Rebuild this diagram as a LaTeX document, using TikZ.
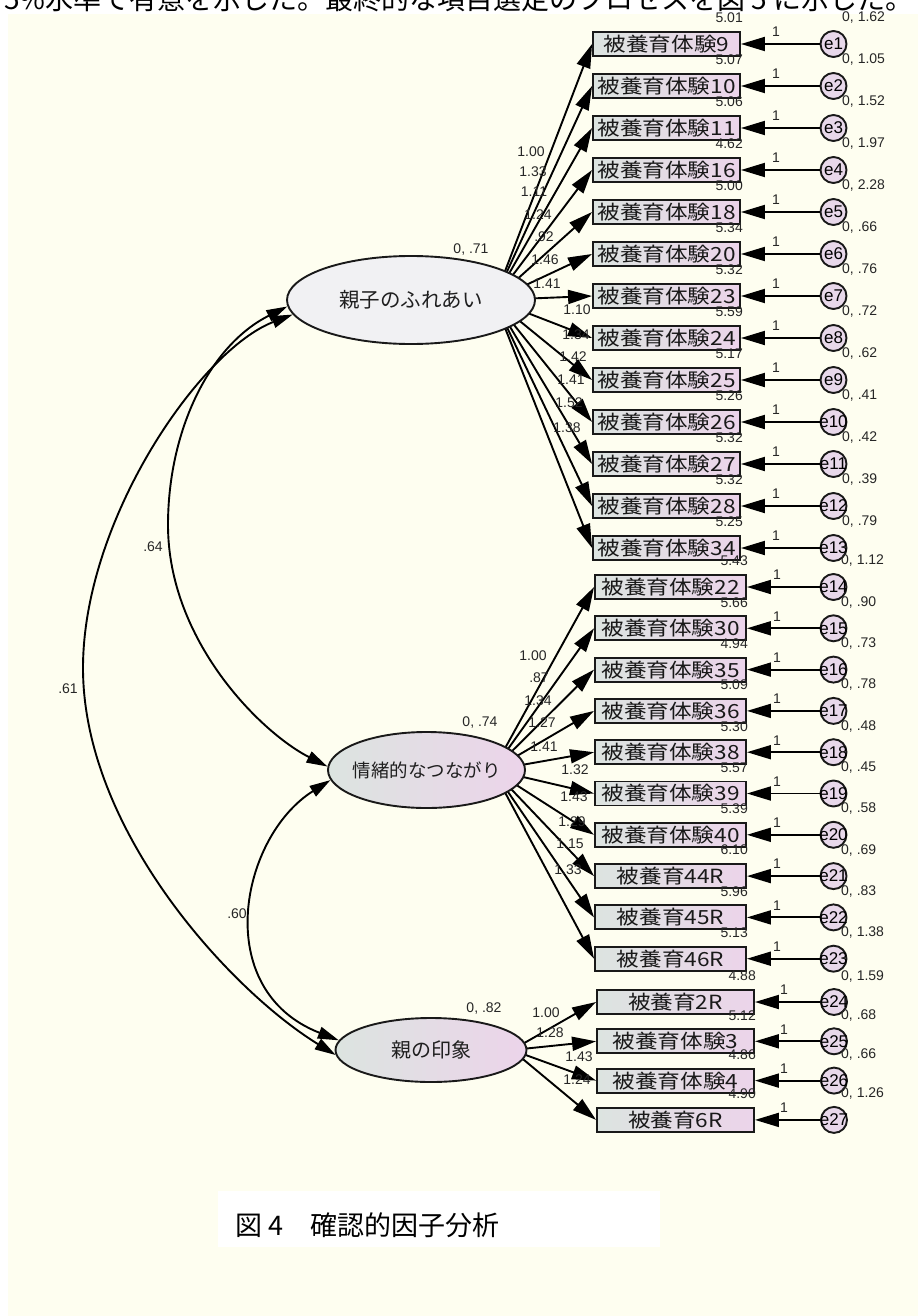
\documentclass[tikz,border=0pt]{standalone}
\usepackage{fontspec}
\usepackage{graphicx}
\setmainfont{Liberation Sans}
\newfontfamily\jp{Noto Sans CJK JP}
\usetikzlibrary{shapes.geometric,arrows.meta}
\definecolor{bg}{HTML}{FEFEF0}
\definecolor{gl}{HTML}{DCE4E0}
\definecolor{gr}{HTML}{ECD4EA}
\definecolor{ec}{HTML}{E8D8EA}
\definecolor{ellone}{HTML}{F1F1F3}
\newcommand{\boxtxt}[1]{\scalebox{1.16}[1]{#1}}
\tikzset{
 num/.style={font=\fontsize{14}{14}\selectfont, text=black!85, inner sep=0pt},
 arr/.style={line width=1.9pt, -{Triangle[length=24pt,width=14pt]}},
 cov/.style={line width=1.9pt, {Triangle[length=21pt,width=12pt]}-{Triangle[length=21pt,width=12pt]}},
 obs/.style={rectangle, draw=black!90, line width=1.9pt, left color=gl, right color=gr, minimum height=24pt, inner sep=0pt, text=black!90, font=\jp\fontsize{19.5}{20}\selectfont},
 err/.style={circle, draw=black!90, line width=1.9pt, fill=ec, minimum size=26pt, inner sep=0pt, font=\fontsize{17}{17}\selectfont},
 lat/.style={ellipse, draw=black!90, line width=1.9pt, inner sep=0pt, text=black!88},
}
\begin{document}
\begin{tikzpicture}[x=1pt,y=-1pt]
\useasboundingbox (0,0) rectangle (918,1316);
\fill[white] (0,0) rectangle (918,1316);
\fill[bg] (8,14) rectangle (918,1316);
\begin{scope}
\clip (0,0) rectangle (918,14);
\node[anchor=base west, inner sep=0pt, font=\jp\fontsize{28}{28}\selectfont] (toptext) at (4,10) {5\%水準で有意を示した。最終的な項目選定のプロセスを図 5 に示した。};
\end{scope}

\coordinate (P1) at (494,300);
\coordinate (P2) at (493,770);
\coordinate (P3) at (512,1050);

% group 1
\foreach \k/\txt/\mean/\var/\load/\lx/\ly in {
 0/被養育体験9/5.01/1.62/1.00/531/152,
 1/被養育体験10/5.07/1.05/1.33/533/172,
 2/被養育体験11/5.06/1.52/1.11/534/192,
 3/被養育体験16/4.62/1.97/1.24/538/215,
 4/被養育体験18/5.00/2.28/.92/544/237,
 5/被養育体験20/5.34/.66/1.46/545/260,
 6/被養育体験23/5.32/.76/1.41/547/284,
 7/被養育体験24/5.59/.72/1.10/577/310,
 8/被養育体験25/5.17/.62/1.34/576/335,
 9/被養育体験26/5.26/.41/1.42/573/357,
 10/被養育体験27/5.32/.42/1.41/571/380,
 11/被養育体験28/5.32/.39/1.52/569/403,
 12/被養育体験34/5.25/.79/1.38/567/428}{
 \pgfmathtruncatemacro{\nn}{\k+1}
 \pgfmathsetmacro{\yy}{44+42*\k}
 \node[obs, minimum width=147pt] (b\nn) at (666.5,\yy) {\boxtxt{\txt}};
 \node[err] (e\nn) at (833.5,\yy) {\makebox[0pt]{e\nn}};
 \node[num, anchor=east] at (743,\yy-26) {\mean};
 \node[num, anchor=west] at (842,\yy-26) {0, \var};
 \node[num] at (776,\yy-12) {1};
 \node[num] at (\lx,\ly) {\load};
 \draw[arr] (e\nn) -- (b\nn);
 \draw[arr] (P1) -- (b\nn.west);
}

% group 2
\foreach \k/\txt/\mean/\var/\load/\lx/\ly in {
 0/被養育体験22/5.43/1.12/1.00/533/656,
 1/被養育体験30/5.66/.90/.87/539/678,
 2/被養育体験35/4.94/.73/1.34/538/701,
 3/被養育体験36/5.09/.78/1.27/542/723,
 4/被養育体験38/5.30/.48/1.41/544/747,
 5/被養育体験39/5.57/.45/1.32/575/770,
 6/被養育体験40/5.39/.58/1.43/574/797,
 7/被養育44R/6.10/.69/1.29/572/822,
 8/被養育45R/5.96/.83/1.15/570/844,
 9/被養育46R/5.13/1.38/1.33/568/870}{
 \pgfmathtruncatemacro{\nn}{\k+14}
 \pgfmathsetmacro{\yy}{587+41.3*\k}
 \node[obs, minimum width=151pt] (b\nn) at (670.5,\yy) {\boxtxt{\txt}};
 \node[err] (e\nn) at (833.5,\yy) {\makebox[0pt]{e\nn}};
 \node[num, anchor=east] at (748,\yy-26) {\mean};
 \node[num, anchor=west] at (841,\yy-26) {0, \var};
 \node[num] at (777,\yy-12) {1};
 \node[num] at (\lx,\ly) {\load};
 \draw[arr] (e\nn) -- (b\nn);
 \draw[arr] (P2) -- (b\nn.west);
}

% group 3
\foreach \k/\txt/\mean/\var/\load/\lx/\ly in {
 0/被養育2R/4.88/1.59/1.00/546/1013,
 1/被養育体験3/5.12/.68/1.28/550/1033,
 2/被養育体験4/4.86/.66/1.43/579/1057,
 3/被養育6R/4.90/1.26/1.24/577/1080}{
 \pgfmathtruncatemacro{\nn}{\k+24}
 \pgfmathsetmacro{\yy}{1002+39.3*\k}
 \node[obs, minimum width=157pt] (b\nn) at (675.5,\yy) {\boxtxt{\txt}};
 \node[err] (e\nn) at (834,\yy) {\makebox[0pt]{e\nn}};
 \node[num, anchor=east] at (756,\yy-26) {\mean};
 \node[num, anchor=west] at (841,\yy-26) {0, \var};
 \node[num] at (784,\yy-12) {1};
 \node[num] at (\lx,\ly) {\load};
 \draw[arr] (e\nn) -- (b\nn);
 \draw[arr] (P3) -- (b\nn.west);
}

% latent variables
\node[lat, fill=ellone, minimum width=248pt, minimum height=88pt, font=\jp\fontsize{20.5}{21}\selectfont] (L1) at (411,300) {\makebox[0pt]{親子のふれあい}};
\node[lat, left color=gl, right color=gr, minimum width=197pt, minimum height=76pt, font=\jp\fontsize{18.5}{19}\selectfont] (L2) at (426.5,770) {\makebox[0pt]{情緒的なつながり}};
\node[lat, left color=gl, right color=gr, minimum width=191pt, minimum height=64pt, font=\jp\fontsize{20}{20}\selectfont] (L3) at (431,1050) {\makebox[0pt]{親の印象}};
\node[num] (v1) at (471,250) {0, .71};
\node[num] (v2) at (480,722) {0, .74};
\node[num] (v3) at (484,1008) {0, .82};

% covariances
\draw[cov] (L1.183) .. controls (210,345) and (168,430) .. (168,525) .. controls (168,640) and (260,732) .. (L2.178);
\draw[cov] (L1.187) .. controls (200,350) and (83,520) .. (83,668) .. controls (83,830) and (230,990) .. (L3.183);
\draw[cov] (L2.186) .. controls (240,837) and (210,990) .. (L3.174);
\node[num] (c1) at (153,547) {.64};
\node[num] (c2) at (68,689) {.61};
\node[num] (c3) at (237,914) {.60};

% caption
\fill[white] (218,1191) rectangle (660,1247);
\node[anchor=west, inner sep=0pt, font=\jp\fontsize{27}{27}\selectfont] (cap) at (235,1225) {図 4　確認的因子分析};
\end{tikzpicture}
\end{document}
